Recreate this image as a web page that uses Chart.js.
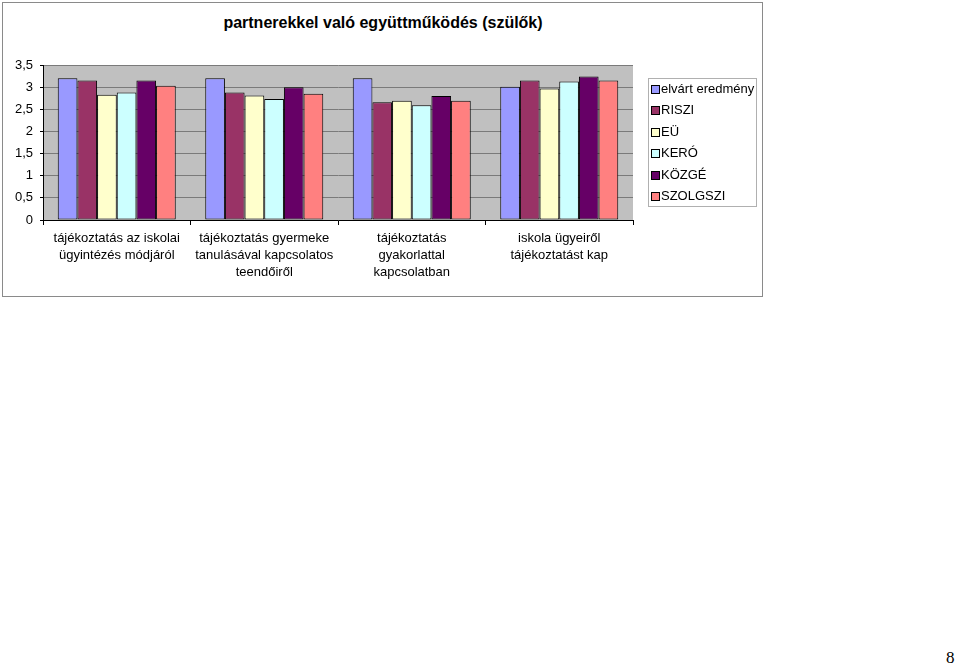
<!DOCTYPE html>
<html>
<head>
<meta charset="utf-8">
<script src="https://cdn.jsdelivr.net/npm/chart.js@4.4.1/dist/chart.umd.min.js"></script>
<style>
  html, body { margin: 0; padding: 0; background: #fff; width: 960px; height: 667px; overflow: hidden; }
  #frame { position: absolute; left: 2px; top: 2px; width: 759px; height: 293px; border: 1px solid #8a8a8a; box-sizing: content-box; }
  #wrap { position: absolute; left: 0; top: 0; width: 764px; height: 300px; }
  #title { position: absolute; left: 2px; width: 762px; top: 14px; text-align: center;
           font: bold 16px "Liberation Sans", Arial, sans-serif; color: #000; }
  #legend { position: absolute; left: 648px; top: 78px; width: 109px; height: 129px; border: 1px solid #b0b0b0;
            font: 13px "Liberation Sans", Arial, sans-serif; color: #000; box-sizing: border-box; padding-top: 0px; }
  #legend .it { height: 21.4px; line-height: 19px; white-space: nowrap; position: relative; padding-left: 12px; }
  #legend .sw { position: absolute; left: 2px; top: 6px; width: 7px; height: 7px; border: 1px solid #000; }
  #page { position: absolute; left: 946px; top: 648px; font: 17px "Liberation Serif", "Times New Roman", serif; }
</style>
</head>
<body>
<div id="frame"></div>
<div id="title">partnerekkel való együttműködés (szülők)</div>
<div id="wrap"><canvas id="c" width="764" height="300"></canvas></div>
<div id="legend"></div>
<div id="page">8</div>
<script>
const categories = [
  ["tájékoztatás az iskolai", "ügyintézés módjáról"],
  ["tájékoztatás gyermeke", "tanulásával kapcsolatos", "teendőiről"],
  ["tájékoztatás", "gyakorlattal", "kapcsolatban"],
  ["iskola ügyeiről", "tájékoztatást kap"]
];
const seriesNames = ["elvárt eredmény", "RISZI", "EÜ", "KERÓ", "KÖZGÉ", "SZOLGSZI"];
const elvart   = [3.2, 3.2, 3.2, 3.01];
const riszi    = [3.15, 2.88, 2.66, 3.15];
const eu       = [2.83, 2.81, 2.69, 2.97];
const kero     = [2.88, 2.73, 2.59, 3.13];
const kozge    = [3.15, 3.0, 2.8, 3.24];
const szolgszi = [3.03, 2.85, 2.69, 3.15];
const yTicks = [0, 0.5, 1, 1.5, 2, 2.5, 3, 3.5];

const colors = ["#9999FF", "#993366", "#FFFFCC", "#CCFFFF", "#660066", "#FF8080"];
const values = [elvart, riszi, eu, kero, kozge, szolgszi];

const plotBg = {
  id: 'plotBg',
  beforeDraw(chart) {
    const a = chart.chartArea, ctx = chart.ctx;
    ctx.save();
    ctx.fillStyle = '#C0C0C0';
    ctx.fillRect(a.left, a.top, a.right - a.left, a.bottom - a.top);
    ctx.restore();
  }
};

const font = { family: '"Liberation Sans", Arial, sans-serif', size: 13 };

const chart = new Chart(document.getElementById('c'), {
  type: 'bar',
  data: {
    labels: categories,
    datasets: seriesNames.map((n, i) => ({
      label: n,
      data: values[i],
      backgroundColor: colors[i],
      borderColor: '#000',
      borderWidth: 1,
      borderSkipped: false,
      categoryPercentage: 0.8,
      barPercentage: 1.0
    }))
  },
  options: {
    responsive: false,
    animation: false,
    devicePixelRatio: 1,
    layout: { padding: { left: 0, right: 131, top: 65, bottom: 0 } },
    plugins: { legend: { display: false }, title: { display: false }, tooltip: { enabled: false } },
    scales: {
      x: {
        grid: { display: true, drawOnChartArea: false, offset: true, tickLength: 5, color: '#000' },
        border: { display: true, color: '#000', width: 1 },
        ticks: { autoSkip: false, maxRotation: 0, minRotation: 0, padding: 5, color: '#000',
                 font: Object.assign({ lineHeight: 1.3 }, font) },
        afterFit(s) { s.height = 80; }
      },
      y: {
        min: 0, max: 3.5,
        afterBuildTicks(s) { s.ticks = yTicks.map(v => ({ value: v })); },
        grid: { color: '#7a7a7a', lineWidth: 1, drawTicks: true, tickLength: 3, tickColor: '#000' },
        border: { display: true, color: '#000', width: 1 },
        ticks: { padding: 7, color: '#000', font: font,
                 callback: v => String(v).replace('.', ',') },
        afterFit(s) { s.width = 43; }
      }
    }
  },
  plugins: [plotBg]
});

const lg = document.getElementById('legend');
chart.data.datasets.forEach(ds => {
  const it = document.createElement('div');
  it.className = 'it';
  const sw = document.createElement('span');
  sw.className = 'sw';
  sw.style.background = ds.backgroundColor;
  it.appendChild(sw);
  it.appendChild(document.createTextNode(ds.label));
  lg.appendChild(it);
});
</script>
</body>
</html>
